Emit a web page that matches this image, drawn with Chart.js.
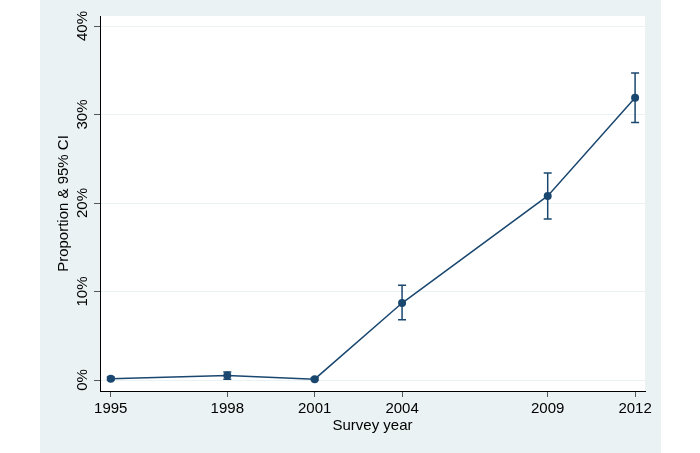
<!DOCTYPE html>
<html><head><meta charset="utf-8">
<script src="https://cdn.jsdelivr.net/npm/chart.js@4/dist/chart.umd.min.js"></script>
<style>
html,body{margin:0;padding:0;background:#fff;}
#wrap{position:absolute;left:40px;top:0;width:621px;height:453px;background:#eaf2f3;}
canvas{display:block;}
</style></head><body>
<div id="wrap"><canvas id="c" width="621" height="453"></canvas></div>
<script>
// Survey years (tick labels) and their plotted positions on the time axis
const surveyYears = ['1995', '1998', '2001', '2004', '2009', '2012'];
const xPositions = [1994, 1998, 2001, 2004, 2009, 2012];
// Proportion (%) and 95% confidence interval
const proportion = [0.15, 0.5, 0.1, 8.7, 20.8, 31.9];
const ciLower = [0.0, 0.1, 0.0, 6.8, 18.2, 29.1];
const ciUpper = [0.35, 0.9, 0.25, 10.7, 23.4, 34.7];
const yTicks = [0, 10, 20, 30, 40];

const FONT = '"Liberation Sans", Arial, sans-serif';
const NAVY = '#1a476f';

const plotBg = {
  id: 'plotBg',
  beforeDraw(chart) {
    const {ctx, chartArea: a} = chart;
    ctx.save();
    ctx.fillStyle = '#ffffff';
    ctx.fillRect(a.left, a.top, a.right - a.left, a.bottom - a.top);
    ctx.restore();
  }
};

const errorBars = {
  id: 'errorBars',
  beforeDatasetsDraw(chart) {
    const {ctx, scales: {x, y}} = chart;
    ctx.save();
    ctx.strokeStyle = NAVY;
    ctx.lineWidth = 1.5;
    const cap = 4;
    xPositions.forEach((xv, i) => {
      const px = x.getPixelForValue(xv);
      const lo = y.getPixelForValue(ciLower[i]);
      const hi = y.getPixelForValue(ciUpper[i]);
      ctx.beginPath();
      ctx.moveTo(px, lo); ctx.lineTo(px, hi);
      ctx.moveTo(px - cap, lo); ctx.lineTo(px + cap, lo);
      ctx.moveTo(px - cap, hi); ctx.lineTo(px + cap, hi);
      ctx.stroke();
    });
    ctx.restore();
  }
};

new Chart(document.getElementById('c'), {
  type: 'line',
  data: {
    datasets: [{
      data: xPositions.map((xv, i) => ({x: xv, y: proportion[i]})),
      borderColor: NAVY,
      borderWidth: 1.5,
      backgroundColor: NAVY,
      pointBackgroundColor: NAVY,
      pointBorderColor: NAVY,
      pointBorderWidth: 0,
      pointRadius: 4,
      tension: 0,
      fill: false
    }]
  },
  options: {
    responsive: false,
    devicePixelRatio: 1,
    animation: false,
    layout: {padding: {top: 16, right: 16, left: 0, bottom: 0}},
    plugins: {legend: {display: false}, tooltip: {enabled: false}},
    scales: {
      x: {
        type: 'linear',
        min: 1993.63,
        max: 2012.34,
        afterBuildTicks(s) { s.ticks = xPositions.map(v => ({value: v})); },
        afterFit(s) { s.height = 62; },
        grid: {drawOnChartArea: false, drawTicks: true, tickLength: 6, tickColor: '#555', tickWidth: 1},
        border: {display: true, color: '#000', width: 1},
        ticks: {
          autoSkip: false, maxRotation: 0, minRotation: 0, padding: 3,
          color: '#000', font: {family: FONT, size: 15},
          callback(v) { const i = xPositions.indexOf(v); return i >= 0 ? surveyYears[i] : ''; }
        },
        title: {display: true, text: 'Survey year', color: '#000', font: {family: FONT, size: 15}, padding: {top: 0, bottom: 18}}
      },
      y: {
        type: 'linear',
        min: -1.24,
        max: 41.13,
        afterBuildTicks(s) { s.ticks = yTicks.map(v => ({value: v})); },
        afterFit(s) { s.width = 60; },
        grid: {color: '#eaf2f3', lineWidth: 1, drawTicks: true, tickLength: 6, tickColor: '#555', tickWidth: 1},
        border: {display: true, color: '#000', width: 1},
        ticks: {
          minRotation: 90, maxRotation: 90, crossAlign: 'center', padding: -4,
          color: '#000', font: {family: FONT, size: 15},
          callback(v) { return v + '%'; }
        },
        title: {display: true, text: 'Proportion & 95% CI', color: '#000', font: {family: FONT, size: 15}, padding: {top: 15, bottom: 0}}
      }
    }
  },
  plugins: [plotBg, errorBars]
});
</script>
</body></html>
